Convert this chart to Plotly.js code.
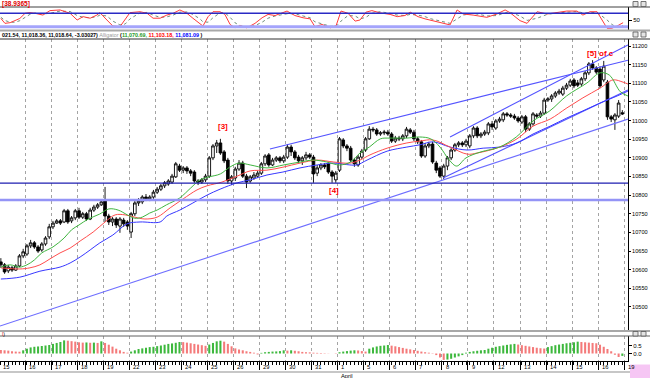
<!DOCTYPE html>
<html><head><meta charset="utf-8">
<script src="https://cdn.plot.ly/plotly-3.0.1.min.js"></script>
<style>html,body{margin:0;padding:0;background:#fff;}#chart{width:650px;height:378px;}</style>
</head><body><div id="chart"></div>
<script>
// ---------------- data ----------------
const dayLabels = ['15','16','17','18','19','22','23','24','25','26','29','30','31','1','5','6','7','8','9','12','13','14','15','16','19'];
const monthLabel = 'April';
const barsPerDay = 7;

const openP = [
10621,10613,10597,10605,10599,10610,10637,
10642,10664,10672,10661,10653,10669,10688,
10715,10725,10731,10728,10758,10731,10739,
10758,10741,10750,10736,10760,10768,10774,
10787,10744,10728,10736,10717,10733,10728,
10701,10750,10779,10782,10795,10790,10795,
10808,10816,10825,10830,10835,10849,10878,
10867,10873,10865,10862,10838,10835,10841,
10851,10900,10932,10940,10916,10894,10838,
10846,10870,10886,10851,10838,10846,10851,
10859,10884,10908,10881,10894,10900,10892,
10902,10929,10916,10902,10892,10900,10908,
10902,10859,10873,10881,10884,10862,10841,
10867,10948,10932,10926,10894,10881,10902,
10921,10951,10977,10975,10964,10967,10969,
10964,10945,10953,10951,10959,10975,10969,
10951,10943,10905,10932,10937,10886,10873,
10851,10878,10900,10921,10935,10940,10935,
10932,10959,10980,10959,10964,10967,10991,
10980,10999,11002,11018,11015,11012,11007,
10996,11010,10977,10991,11015,11012,11020,
11055,11058,11066,11074,11071,11087,11095,
11109,11101,11098,11112,11128,11152,11141,
11138,11109,11103,11010,11002,11012,11021];
const highP = [
10631,10618,10613,10610,10615,10642,10656,
10669,10680,10677,10666,10674,10690,10723,
10731,10736,10736,10763,10763,10744,10763,
10766,10755,10755,10766,10774,10779,10787,
10822,10750,10741,10741,10741,10739,10733,
10755,10787,10792,10800,10803,10800,10814,
10822,10830,10838,10843,10857,10889,10884,
10878,10878,10870,10867,10843,10846,10857,
10905,10937,10948,10951,10921,10900,10854,
10876,10894,10892,10857,10854,10862,10865,
10889,10910,10913,10900,10905,10905,10908,
10937,10935,10921,10908,10905,10916,10913,
10908,10881,10886,10886,10889,10867,10865,
10956,10953,10937,10932,10900,10908,10924,
10956,10985,10983,10980,10972,10975,10975,
10969,10959,10959,10964,10983,10980,10975,
10956,10948,10940,10943,10943,10892,10878,
10884,10905,10926,10940,10945,10945,10951,
10964,10985,10985,10969,10975,10996,10999,
11004,11010,11023,11023,11020,11018,11012,
11015,11015,10996,11023,11020,11026,11061,
11063,11071,11079,11085,11093,11101,11112,
11114,11109,11117,11133,11157,11162,11146,
11146,11160,11109,11015,11020,11055,11028];
const lowP = [
10605,10589,10591,10594,10597,10607,10631,
10637,10658,10656,10645,10648,10664,10682,
10709,10723,10720,10725,10723,10725,10733,
10736,10736,10731,10733,10755,10763,10771,
10728,10720,10717,10712,10699,10715,10707,
10685,10744,10771,10776,10784,10784,10790,
10803,10811,10819,10825,10830,10846,10862,
10859,10857,10851,10833,10827,10830,10835,
10846,10894,10913,10908,10886,10830,10827,
10838,10865,10846,10819,10833,10841,10846,
10854,10878,10876,10878,10889,10886,10886,
10897,10905,10894,10886,10881,10894,10897,
10833,10851,10867,10870,10857,10833,10833,
10862,10926,10918,10889,10876,10876,10897,
10916,10948,10969,10959,10959,10961,10959,
10940,10940,10945,10945,10953,10964,10945,
10937,10900,10900,10926,10884,10859,10846,
10843,10867,10894,10916,10929,10929,10929,
10926,10953,10953,10953,10959,10961,10975,
10975,10994,10996,11010,11007,11002,10994,
10991,10969,10972,10986,11007,11007,11015,
11050,11050,11061,11069,11066,11082,11090,
11087,11090,11093,11106,11122,11136,11125,
11087,11103,11002,10996,10975,11007,11015];
const closeP = [
10613,10594,10607,10599,10610,10637,10648,
10664,10672,10661,10650,10669,10685,10715,
10725,10731,10725,10758,10728,10739,10758,
10741,10750,10736,10760,10768,10774,10782,
10744,10728,10736,10720,10736,10723,10717,
10750,10779,10784,10795,10790,10795,10808,
10816,10825,10833,10838,10851,10884,10867,
10873,10865,10859,10838,10835,10841,10851,
10900,10932,10940,10913,10892,10838,10849,
10870,10886,10851,10835,10849,10854,10859,
10884,10905,10881,10894,10900,10892,10902,
10929,10916,10900,10892,10900,10908,10902,
10857,10873,10881,10876,10862,10851,10859,
10951,10932,10926,10894,10884,10902,10918,
10951,10977,10975,10964,10967,10969,10964,
10945,10953,10951,10959,10977,10969,10951,
10943,10905,10932,10937,10889,10867,10851,
10878,10900,10921,10935,10940,10935,10945,
10959,10980,10959,10964,10969,10991,10983,
10999,11004,11018,11015,11012,11007,10999,
11010,10977,10991,11018,11012,11020,11055,
11058,11066,11074,11079,11087,11095,11106,
11093,11095,11112,11128,11152,11141,11130,
11093,11146,11010,11004,11015,11047,11018];

// Alligator (bar position, value)
const jawX = [0,5.1,10.5,15.9,18.6,21.3,24,26.6,30.1,33.9,37.4,42.8,44.6,48.1,51.6,55.4,58.9,63.5,67,71.5,75.8,80.4,85,89.3,93.8,95.7,98.4,103.8,109.1,112.6,116.1,120.7,125.3,129.6,134.1,138.7,143,147.6,152.1,156.4,161,165.6,168.5];
const jawY = [10575,10580,10596,10607,10618,10634,10653,10672,10693,10723,10728,10728,10744,10760,10779,10800,10816,10833,10841,10854,10862,10873,10881,10886,10881,10881,10894,10918,10929,10935,10943,10929,10921,10926,10929,10940,10964,10985,11007,11026,11047,11066,11079];
const teethX = [0,5.1,7.8,10.5,13.2,15.9,18.6,21.3,24.8,28,30.7,33.4,36,38.7,42,45.5,49,52.7,55.4,59.4,63.5,67,71.5,75.8,80.4,85,89.3,93.8,96.5,99.2,103.8,109.1,112.6,116.1,120.7,125.3,128,134.1,138.7,143,147.6,152.1,156.4,161,164.5,167.2,168.5];
const teethY = [10605,10602,10605,10613,10629,10645,10658,10677,10701,10728,10747,10747,10741,10736,10741,10766,10790,10814,10825,10835,10851,10865,10867,10875,10886,10894,10889,10886,10894,10908,10926,10940,10945,10948,10929,10910,10913,10929,10951,10985,11004,11034,11061,11087,11109,11103,11098];
const lipsX = [0,2.5,5,7,9,11,14,17,19,21,23.5,26.5,29,31.5,34,36,38,40,42,44.5,48,51,53.5,56,59,61.5,64,67,71.5,76,80.5,84,87.5,91,94,96.5,99,102,104.5,109,112.5,115.5,118,120.5,122.5,125,129,134,138.5,143,147.5,152,157.5,161,163.5,166.5,168.5];
const lipsY = [10607,10613,10607,10613,10626,10645,10661,10685,10707,10720,10736,10749,10763,10760,10747,10738,10741,10752,10760,10774,10792,10819,10841,10849,10857,10875,10886,10881,10873,10881,10889,10894,10889,10881,10889,10913,10929,10951,10953,10953,10956,10951,10929,10894,10878,10900,10916,10929,10956,10999,11026,11066,11101,11128,11122,11077,11066];

// drawn trend lines: start/end (bar position, value)
const trendX0 = [-0.23, 72.3, 120.7, 118.8];
const trendY0 = [10449, 10924, 10956, 10846];
const trendX1 = [168.5, 168.5, 168.5, 168.5];
const trendY1 = [11004, 11162, 11203, 11082];
const supportLevels = [10832, 10787];

// Stochastic
const stochX = [0,1.1,2.5,3.8,5.1,6.5,7.8,9.2,10.5,11.3,13.2,15.9,18.6,20.5,22.1,24,25.8,26.6,28.5,30.1,32,33.4,34.7,37.4,39.3,40.9,42.8,44.6,46.3,48.1,50,51.6,53.5,54.3,55.7,57,58.9,60.2,61.6,62.9,64.3,66.1,68.3,70.2,71.8,73.7,76.9,79,81.2,83.1,84.4,86.3,88.5,90.1,91.4,93.3,95.2,96.5,98.1,99.7,101.9,104.6,106.5,108.6,110,112.1,114,115.4,118,120.7,122.6,124.2,126.9,130.6,133.3,135.5,136.8,139.5,141.4,144.1,146.8,149.5,152.1,154.8,156.4,158.3,160.2,162.9,164.2,165.6,167.2];
const stochK = [57,35,38,47,57,80,83,80,77,72,92,95,80,50,65,58,72,83,50,23,20,50,83,87,80,58,58,72,80,95,80,58,35,23,65,87,87,75,30,15,25,15,35,60,75,70,90,70,60,55,20,30,15,25,90,80,45,50,85,92,82,75,65,70,85,65,55,50,38,28,95,77,72,62,77,95,83,47,35,87,77,83,90,90,72,87,87,13,13,23,38];
const stochD = [62,48,40,40,47,62,75,81,80,77,80,90,88,70,62,60,65,72,68,45,28,32,55,82,84,72,62,64,72,85,86,75,55,42,40,60,82,82,62,38,24,20,25,40,58,68,78,78,68,60,42,33,22,22,45,70,68,55,62,80,87,80,72,70,75,72,65,56,45,35,55,72,80,68,70,82,85,68,48,58,75,82,85,88,82,82,84,50,30,17,25];
const stochLevels = [80, 20];

// Oscillator histogram (one per bar)
const oscValues = [
0.22,0.2,0.18,0.14,0.12,0.11,0.2,
0.3,0.38,0.42,0.44,0.47,0.5,0.53,
0.6,0.66,0.72,0.82,0.8,0.77,0.74,
0.7,0.68,0.69,0.67,0.68,0.66,0.76,
0.66,0.55,0.43,0.3,0.2,0.1,0.05,
0.12,0.2,0.28,0.32,0.36,0.4,0.42,
0.46,0.5,0.55,0.6,0.63,0.67,0.72,
0.71,0.68,0.64,0.6,0.56,0.52,0.48,
0.56,0.66,0.76,0.8,0.74,0.6,0.45,
0.32,0.25,0.2,0.14,0.1,0.05,-0.06,
0.04,0.08,0.1,0.12,0.13,0.15,0.2,
0.18,0.2,0.17,0.14,0.1,0.08,0.07,
0.05,0.04,0.03,0.02,0.01,0.0,-0.02,
0.08,0.12,0.15,0.18,0.2,0.19,0.15,
0.12,0.3,0.38,0.44,0.48,0.5,0.53,
0.49,0.45,0.4,0.35,0.3,0.26,0.22,
0.17,0.12,0.08,0.05,0.02,-0.1,-0.25,
-0.4,-0.38,-0.33,-0.25,-0.18,-0.1,0.05,
0.1,0.14,0.17,0.2,0.22,0.3,0.36,
0.42,0.46,0.5,0.54,0.57,0.6,0.56,
0.52,0.48,0.44,0.4,0.36,0.33,0.31,
0.4,0.46,0.52,0.56,0.6,0.64,0.67,
0.7,0.74,0.72,0.7,0.68,0.66,0.64,
0.55,0.42,0.28,0.14,-0.08,-0.22,-0.15];

const priceTicks = [10500,10550,10600,10650,10700,10750,10800,10850,10900,10950,11000,11050,11100,11150,11200];
const priceTickText = ['10500','10550','10600','10650','10700','10750','10800','10850','10900','10950','11000','11050','11100','11150','11200'];

// ---------------- layout helpers ----------------
const PW = 628, PH = 378;
const xp = px => px / PW;
const yp = py => 1 - py / PH;
const FONT = 'Liberation Sans, Arial, sans-serif';

const barIdx = closeP.map((_, i) => i);
const dayStarts = dayLabels.map((_, d) => d * barsPerDay - 0.5);
const xRange = [-0.23, 168.52];
const oscColors = oscValues.map((v, i) => (i > 0 && v > oscValues[i - 1]) ? '#3db83d' : '#f47a7a');

const traces = [];
traces.push({type:'scatter', mode:'lines', x:stochX, y:stochD, xaxis:'x2', yaxis:'y2',
  line:{color:'#6f8f7a', width:1, dash:'dot'}, hoverinfo:'skip'});
traces.push({type:'scatter', mode:'lines', x:stochX, y:stochK, xaxis:'x2', yaxis:'y2',
  line:{color:'#ff3a3a', width:1}, hoverinfo:'skip'});

trendX0.forEach((x0, k) => {
  traces.push({type:'scatter', mode:'lines', x:[x0, trendX1[k]], y:[trendY0[k], trendY1[k]],
    xaxis:'x', yaxis:'y', line:{color: k === 0 ? '#6e6eff' : '#5454ff', width:1.1}, hoverinfo:'skip'});
});

traces.push({type:'scatter', mode:'lines', x:jawX, y:jawY, xaxis:'x', yaxis:'y', line:{color:'#3737ff', width:1, shape:'spline'}, hoverinfo:'skip'});
traces.push({type:'scatter', mode:'lines', x:teethX, y:teethY, xaxis:'x', yaxis:'y', line:{color:'#ff4d4d', width:1, shape:'spline'}, hoverinfo:'skip'});
traces.push({type:'scatter', mode:'lines', x:lipsX, y:lipsY, xaxis:'x', yaxis:'y', line:{color:'#3fb53f', width:1, shape:'spline'}, hoverinfo:'skip'});

traces.push({type:'candlestick', x:barIdx, open:openP, high:highP, low:lowP, close:closeP,
  xaxis:'x', yaxis:'y', whiskerwidth:0, hoverinfo:'none',
  increasing:{line:{color:'#000', width:0.9}, fillcolor:'#ffffff'},
  decreasing:{line:{color:'#000', width:0.9}, fillcolor:'#000000'}});

traces.push({type:'bar', x:barIdx, y:oscValues, xaxis:'x', yaxis:'y3', width:0.55,
  marker:{color:oscColors, line:{width:0}}, hoverinfo:'skip'});

const shapes = [];
shapes.push({type:'line', xref:'paper', yref:'y', x0:0, x1:1, y0:supportLevels[0], y1:supportLevels[0], line:{color:'#1e1eb0', width:1.3}});
shapes.push({type:'line', xref:'paper', yref:'y', x0:0, x1:1, y0:supportLevels[1], y1:supportLevels[1], line:{color:'#9494f6', width:2.4}});
shapes.push({type:'line', xref:'paper', yref:'y2', x0:0, x1:1, y0:stochLevels[0], y1:stochLevels[0], line:{color:'#2a2ac4', width:1.5}});
shapes.push({type:'line', xref:'paper', yref:'y2', x0:0, x1:1, y0:stochLevels[1], y1:stochLevels[1], line:{color:'#a4a4fb', width:3}});
const hline = (py, color, w) => ({type:'line', xref:'paper', yref:'paper', x0:0, x1:650/PW, y0:yp(py), y1:yp(py), line:{color:color, width:w}});
shapes.push(hline(7, '#404040', 1));
shapes.push(hline(30.5, '#a8a8a8', 2.2));
shapes.push(hline(39, '#303030', 1));
shapes.push(hline(331, '#a8a8a8', 2.2));
shapes.push(hline(336, '#606060', 1));
shapes.push(hline(372, '#b4b4b4', 1.6));
shapes.push({type:'rect', xref:'paper', yref:'paper', x0:xp(630), x1:xp(650), y0:yp(378), y1:yp(364.5), fillcolor:'#f6c6f4', line:{width:0}});
[[1.5,6.5],[32,37],[331.5,336]].forEach(r => {
  [[633,638],[641,646]].forEach(c => {
    shapes.push({type:'rect', xref:'paper', yref:'paper', x0:xp(c[0]), x1:xp(c[1]), y0:yp(r[1]), y1:yp(r[0]), fillcolor:'#e4e4e4', line:{color:'#555', width:0.8}});
  });
});

const annotations = [];
annotations.push({xref:'paper', yref:'paper', x:0, y:yp(3.6), xanchor:'left', yanchor:'middle', showarrow:false,
  text:'<b>[38.9365]</b>', font:{family:FONT, size:6.5, color:'#e00000'}});
annotations.push({xref:'paper', yref:'paper', x:0, y:yp(35), xanchor:'left', yanchor:'middle', showarrow:false,
  text:'<b>021.54, 11,018.36, 11,018.64, -3.03027)</b> <span style="color:#9a9a9a">Alligator</span> <b>(<span style="color:#1e9a1e">11,070.69,</span> <span style="color:#ff0000">11,103.18,</span> <span style="color:#0000ff">11,081.09</span> )</b>',
  font:{family:FONT, size:5.4, color:'#000'}});
annotations.push({xref:'paper', yref:'paper', x:0, y:yp(333.5), xanchor:'left', yanchor:'middle', showarrow:false,
  text:'<span style="color:#e00000">l</span>)', font:{family:FONT, size:5, color:'#000'}});
annotations.push({xref:'x', yref:'y', x:59.7, y:10983, text:'<b>[3]</b>', showarrow:false, font:{family:FONT, size:8, color:'#ff0000'}});
annotations.push({xref:'x', yref:'y', x:89.5, y:10813, text:'<b>[4]</b>', showarrow:false, font:{family:FONT, size:8, color:'#ff0000'}});
annotations.push({xref:'x', yref:'y', x:161, y:11181, text:'<b>[5] of c</b>', showarrow:false, font:{family:FONT, size:8, color:'#ff0000'}});
dayLabels.forEach((lab, d) => {
  annotations.push({xref:'x', yref:'paper', x:dayStarts[d] + 0.45, y:yp(366.5), xanchor:'left', yanchor:'middle', showarrow:false,
    text:lab, font:{family:FONT, size:5.8, color:'#000'}});
});
annotations.push({xref:'x', yref:'paper', x:dayStarts[13] + 0.3, y:yp(375.5), xanchor:'left', yanchor:'middle', showarrow:false,
  text:monthLabel, font:{family:FONT, size:5.8, color:'#000'}});

const layout = {
  width:650, height:378, margin:{l:0, r:22, t:0, b:0},
  paper_bgcolor:'#ffffff', plot_bgcolor:'#ffffff', showlegend:false,
  boxgap:0.25, boxgroupgap:0.05, bargap:0.4,
  xaxis:{domain:[0,1], range:xRange, anchor:'y3', rangeslider:{visible:false},
    tickmode:'array', tickvals:dayStarts, showticklabels:false, ticks:'outside', ticklen:8, tickwidth:1, tickcolor:'#000',
    minor:{tickmode:'array', tickvals:barIdx, ticks:'outside', ticklen:3, tickcolor:'#000', showgrid:false},
    showgrid:true, gridcolor:'#a4a4a4', griddash:'dot', gridwidth:1,
    showline:true, linecolor:'#000', linewidth:1, zeroline:false, fixedrange:true},
  xaxis2:{domain:[0,1], range:xRange, anchor:'y2', showgrid:false, showticklabels:false, ticks:'', showline:false, zeroline:false},
  yaxis:{domain:[yp(331), yp(39)], range:[10435.6, 11218.8], side:'right', anchor:'x',
    tickmode:'array', tickvals:priceTicks, ticktext:priceTickText, ticks:'outside', ticklen:2, tickcolor:'#000',
    tickfont:{family:FONT, size:5.6, color:'#000'}, showgrid:false, zeroline:false,
    showline:true, linecolor:'#000', linewidth:1},
  yaxis2:{domain:[yp(29.5), yp(7)], range:[7.46, 108.2], side:'right', anchor:'x2',
    tickmode:'array', tickvals:[50], ticktext:['50'], ticks:'outside', ticklen:3, tickcolor:'#000',
    tickfont:{family:FONT, size:6, color:'#000'}, showgrid:false, zeroline:false,
    showline:true, linecolor:'#000', linewidth:1},
  yaxis3:{domain:[yp(361), yp(336)], range:[-0.469, 1.094], side:'right', anchor:'x',
    tickmode:'array', tickvals:[0, 0.5], ticktext:['0.0','0.5'], ticks:'outside', ticklen:3, tickcolor:'#000',
    tickfont:{family:FONT, size:6, color:'#000'}, showgrid:false, zeroline:false,
    showline:true, linecolor:'#000', linewidth:1},
  shapes:shapes, annotations:annotations
};

Plotly.newPlot('chart', traces, layout, {staticPlot:true, displayModeBar:false});
</script></body></html>
